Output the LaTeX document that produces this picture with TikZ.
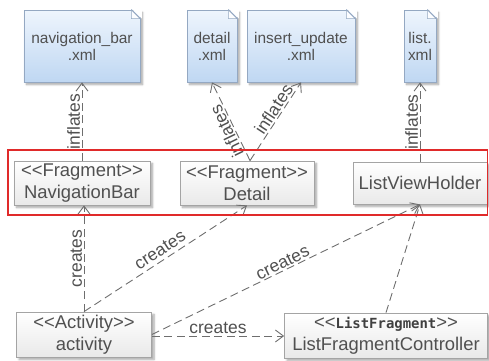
\documentclass[tikz,border=0pt]{standalone}
\usepackage{fontspec}
\setmainfont{Liberation Sans}[Ligatures=TeXOff]
\newfontfamily\stereomono{DejaVu Sans Mono}[Ligatures=TeXOff]
\usetikzlibrary{arrows.meta,shadows.blur}

\definecolor{inkgray}{HTML}{505050}
\definecolor{boxline}{HTML}{A4A4A4}
\definecolor{boxbottom}{HTML}{E9E9E9}
\definecolor{notetop}{HTML}{EEF5FD}
\definecolor{notebottom}{HTML}{BFD7F2}
\definecolor{noteline}{HTML}{94A8C2}
\definecolor{linegray}{HTML}{6E6E6E}
\definecolor{framered}{HTML}{E02A2A}

\begin{document}
\begin{tikzpicture}[x=1bp,y=-1bp,
  softshadow/.style={blur shadow={shadow xshift=2.5bp, shadow yshift=-2.5bp,
    shadow blur steps=6, shadow opacity=35}},
  classbox/.style={draw=boxline, line width=0.8bp, top color=white, bottom color=boxbottom,
    minimum height=44bp, inner sep=0pt, align=center, text=inkgray,
    font=\fontsize{18.5}{22.5}\selectfont, softshadow},
  xmlnote/.style={draw=noteline, line width=0.8bp, top color=notetop, bottom color=notebottom,
    minimum height=72bp, inner sep=0pt, align=center, text=inkgray,
    font=\fontsize{15.5}{17}\selectfont, softshadow},
  notecut/.style={fill=white},
  notefold/.style={draw=noteline, line width=0.6bp, fill=white!80!notetop, line join=round},
  dep/.style={draw=linegray, line width=0.9bp, dash pattern=on 8bp off 4.5bp,
    -{Straight Barb[length=8bp,width=12bp]}},
  lbl/.style={font=\fontsize{17.5}{20}\selectfont, text=inkgray, sloped, allow upside down,
    above, inner sep=1.5bp}
]
\useasboundingbox (0,0) rectangle (489,360);

% layout files (notes with a folded corner)
\node[xmlnote, minimum width=116bp] (navxml)    at (82,46)  {navigation\_bar\\.xml};
\node[xmlnote, minimum width=50bp]  (detailxml) at (212,46) {detail\\.xml};
\node[xmlnote, minimum width=108bp] (insxml)    at (301,46) {insert\_update\\.xml};
\node[xmlnote, minimum width=32bp]  (listxml)   at (420,46) {list.\\xml};

\foreach \n in {navxml,detailxml,insxml,listxml}{
  \path[notecut] ([xshift=-9bp,yshift=1bp]\n.north east) -- ([xshift=1.5bp,yshift=1bp]\n.north east)
    -- ([xshift=1.5bp,yshift=-9bp]\n.north east) -- cycle;
  \path[notefold] ([xshift=-9bp]\n.north east) -- ([xshift=-9bp,yshift=-9bp]\n.north east)
    -- ([yshift=-9bp]\n.north east) -- cycle;
  \draw[noteline, line width=0.8bp] ([xshift=-9bp]\n.north east) -- ([yshift=-9bp]\n.north east);
}

% classes
\node[classbox, minimum width=136bp] (navbar) at (82,183)  {<<Fragment>>\\NavigationBar};
\node[classbox, minimum width=134bp] (detail) at (247,183) {<<Fragment>>\\Detail};
\node[classbox, minimum width=134bp, minimum height=42bp] (lvh) at (420,183) {ListViewHolder};
\node[classbox, minimum width=135bp, minimum height=45bp] (activity) at (84,334.5) {<<Activity>>\\activity};
\node[classbox, minimum width=203bp, minimum height=45bp] (lfc) at (386,335.5)
  {<<{\stereomono\bfseries\color{black!75}\fontsize{14}{17}\selectfont ListFragment}>>\\ListFragmentController};

% inflates dependencies
\draw[dep] (navbar.north) -- (navbar.north |- navxml.south) node[lbl, midway] {inflates};
\draw[dep] ([xshift=3bp]detail.north) -- (detailxml.south) node[lbl, pos=0.42] {inflates};
\draw[dep] ([xshift=3bp]detail.north) -- (insxml.south) node[lbl, pos=0.6] {inflates};
\draw[dep] (lvh.north) -- (lvh.north |- listxml.south) node[lbl, midway] {inflates};

% creates dependencies
\draw[dep] (activity.north) -- (activity.north |- navbar.south) node[lbl, midway] {creates};
\draw[dep] (activity.north) -- (detail.south) node[lbl, pos=0.5, above=2.5bp] {creates};
\draw[dep] (activity.east) -- (lvh.south) node[lbl, pos=0.5] {creates};
\draw[dep] ([yshift=-1.5bp]activity.east) -- ([yshift=-1.5bp]activity.east -| lfc.west) node[lbl, midway] {creates};
\draw[dep] (lfc.north) -- (lvh.south);

% fragment group frame
\draw[framered, line width=1.6bp] (8,150) rectangle (487.5,215);
\end{tikzpicture}
\end{document}
